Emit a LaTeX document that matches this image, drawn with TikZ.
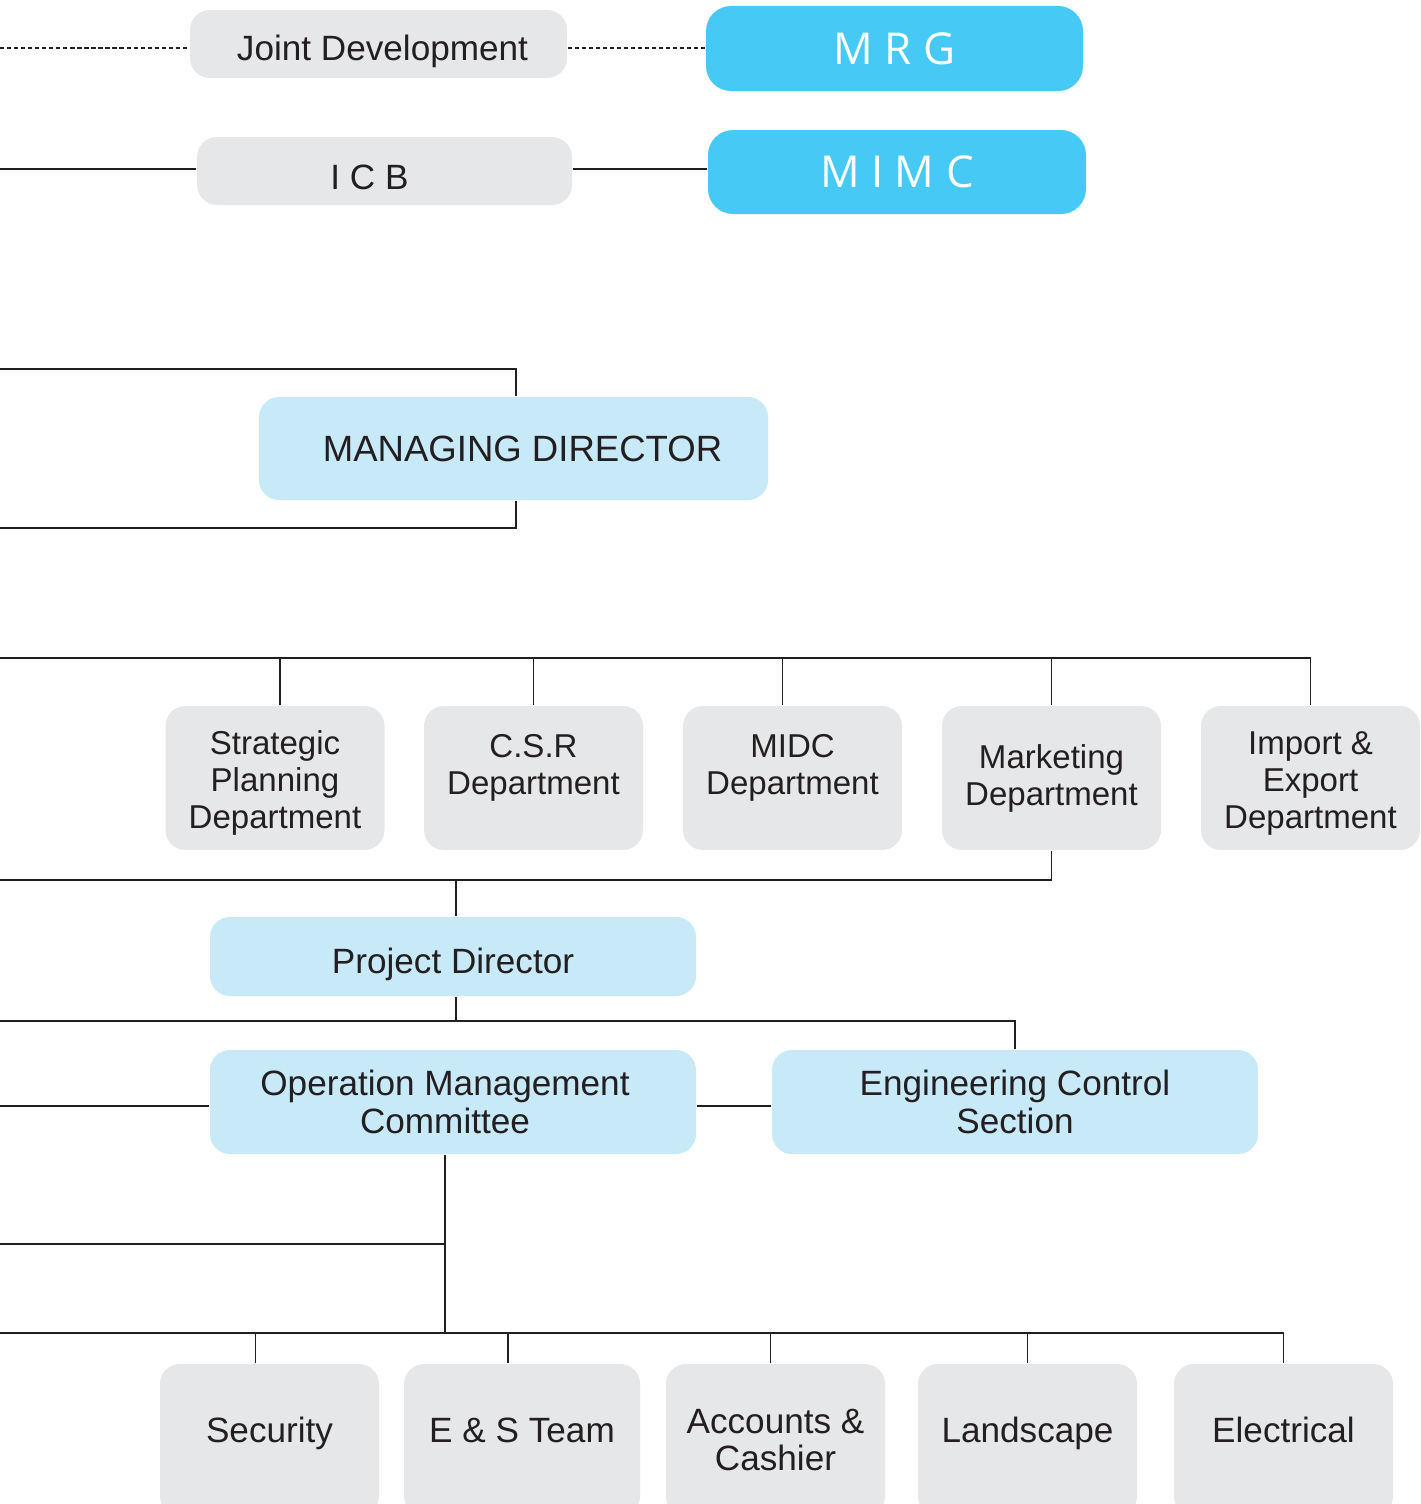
\documentclass[tikz,border=0pt]{standalone}
\usepackage{fontspec}
\setmainfont{Liberation Sans}
\newfontfamily\logofont{Open Sans}
\definecolor{boxgray}{HTML}{E6E7E8}
\definecolor{paleblue}{HTML}{C7E9F8}
\definecolor{skyblue}{HTML}{47C9F5}
\definecolor{ink}{HTML}{231F20}
\begin{document}
\begin{tikzpicture}[
  box/.style={rectangle,rounded corners=0.2cm,inner sep=0pt,align=center,text=ink,font=\fontsize{10}{10.6}\selectfont},
  greybox/.style={box,fill=boxgray},
  palebox/.style={box,fill=paleblue},
  logobox/.style={box,fill=skyblue,text=white,rounded corners=0.25cm,font=\fontsize{12.5}{14}\logofont},
  dept/.style={greybox,minimum width=2.19cm,minimum height=1.44cm,font=\fontsize{9.4}{10.5}\selectfont},
  unit/.style={greybox,minimum width=2.19cm,minimum height=1.52cm},
  wire/.style={draw=ink,line width=0.45pt}]
\useasboundingbox (0,0) rectangle (14.21,-15.04);
\clip (0,0) rectangle (14.21,-15.04);

% partners
\node (jd) at (3.785,-0.44)[greybox,minimum width=3.77cm,minimum height=0.68cm,text height=0.32cm,text depth=0pt]{\hspace*{0.08cm}Joint Development};
\node (mrg) at (8.945,-0.485)[logobox,minimum width=3.77cm,minimum height=0.85cm]{M R G};
\node (icb) at (3.845,-1.71)[greybox,minimum width=3.75cm,minimum height=0.68cm,text height=0.37cm,text depth=0pt]{I C B\hspace*{0.3cm}};
\node (mimc) at (8.97,-1.72)[logobox,minimum width=3.78cm,minimum height=0.84cm]{M I M C};

\node (md) at (5.135,-4.485)[palebox,minimum width=5.09cm,minimum height=1.03cm,font=\fontsize{10.4}{11}\selectfont]{\hspace*{0.18cm}MANAGING DIRECTOR};

% departments
\node (spd) at (2.75,-7.78)[dept]{\rule{0pt}{0.34cm}Strategic\\Planning\\Department};
\node (csr) at (5.335,-7.78)[dept]{C.S.R\\Department\rule[-0.27cm]{0pt}{0pt}};
\node (midc) at (7.925,-7.78)[dept]{MIDC\\Department\rule[-0.27cm]{0pt}{0pt}};
\node (mkt) at (10.515,-7.78)[dept]{Marketing\\Department};
\node (imp) at (13.105,-7.78)[dept]{\rule{0pt}{0.34cm}Import \&\\Export\\Department};

\node (pd) at (4.53,-9.565)[palebox,minimum width=4.86cm,minimum height=0.79cm,text height=0.33cm,text depth=0pt]{Project Director};
\node (omc) at (4.53,-11.02)[palebox,minimum width=4.86cm,minimum height=1.04cm]{Operation Management\hspace*{0.16cm}\\Committee\hspace*{0.16cm}};
\node (ecs) at (10.15,-11.02)[palebox,minimum width=4.86cm,minimum height=1.04cm]{Engineering Control\\Section};

% site units
\node (sec) at (2.695,-14.40)[unit,text depth=0.2cm]{Security};
\node (est) at (5.22,-14.40)[unit,minimum width=2.36cm,text depth=0.2cm]{E \& S Team};
\node (acc) at (7.755,-14.40)[unit]{Accounts \&\\Cashier};
\node (lsc) at (10.275,-14.40)[unit,text depth=0.2cm]{Landscape};
\node (ele) at (12.835,-14.40)[unit,text depth=0.2cm]{Electrical};

\coordinate (jdl) at (0,-0.48);
\coordinate (icbl) at (0,-1.69);
\coordinate (mdtl) at (0,-3.69);
\coordinate (mdbl) at (0,-5.28);
\coordinate (busa) at (0,-6.58);
\coordinate (busb) at (0,-8.80);
\coordinate (busc) at (0,-10.21);
\coordinate (omcl) at (0,-11.06);
\coordinate (side) at (0,-12.44);
\coordinate (busd) at (0,-13.33);
\coordinate (hub) at (4.45,-13.33);

\draw[wire,dash pattern=on 1.2pt off 0.8pt] (jdl)--(jdl -| jd.west);
\draw[wire,dash pattern=on 1.2pt off 0.8pt] (jd.east |- jdl)--(jdl -| mrg.west);
\draw[wire] (icbl)--(icbl -| icb.west);
\draw[wire] (icb.east |- icbl)--(icbl -| mimc.west);

\draw[wire] (mdtl) -| ([xshift=0.25mm]md.north);
\draw[wire] (mdbl) -| ([xshift=0.25mm]md.south);

\draw[wire] (busa) -| (imp.north);
\draw[wire] ([xshift=0.5mm]spd.north)--([xshift=0.5mm]spd.north |- busa);
\draw[wire] (csr.north)--(csr.north |- busa);
\draw[wire] ([xshift=-1mm]midc.north)--([xshift=-1mm]midc.north |- busa);
\draw[wire] (mkt.north)--(mkt.north |- busa);

\draw[wire] (mkt.south) |- (busb);
\draw[wire] ([xshift=0.3mm]pd.north)--([xshift=0.3mm]pd.north |- busb);
\draw[wire] (busc) -| (ecs.north);
\draw[wire] ([xshift=0.3mm]pd.south)--([xshift=0.3mm]pd.south |- busc);

\draw[wire] (omcl)--(omcl -| omc.west);
\draw[wire] (omc.east |- omcl)--(omcl -| ecs.west);
\draw[wire] (hub |- omc.south)--(hub);
\draw[wire] (side)--(side -| hub);

\draw[wire] (busd) -| (ele.north);
\draw[wire] ([xshift=-1.4mm]sec.north)--([xshift=-1.4mm]sec.north |- busd);
\draw[wire] ([xshift=-1.4mm]est.north)--([xshift=-1.4mm]est.north |- busd);
\draw[wire] ([xshift=-0.5mm]acc.north)--([xshift=-0.5mm]acc.north |- busd);
\draw[wire] (lsc.north)--(lsc.north |- busd);
\end{tikzpicture}
\end{document}
